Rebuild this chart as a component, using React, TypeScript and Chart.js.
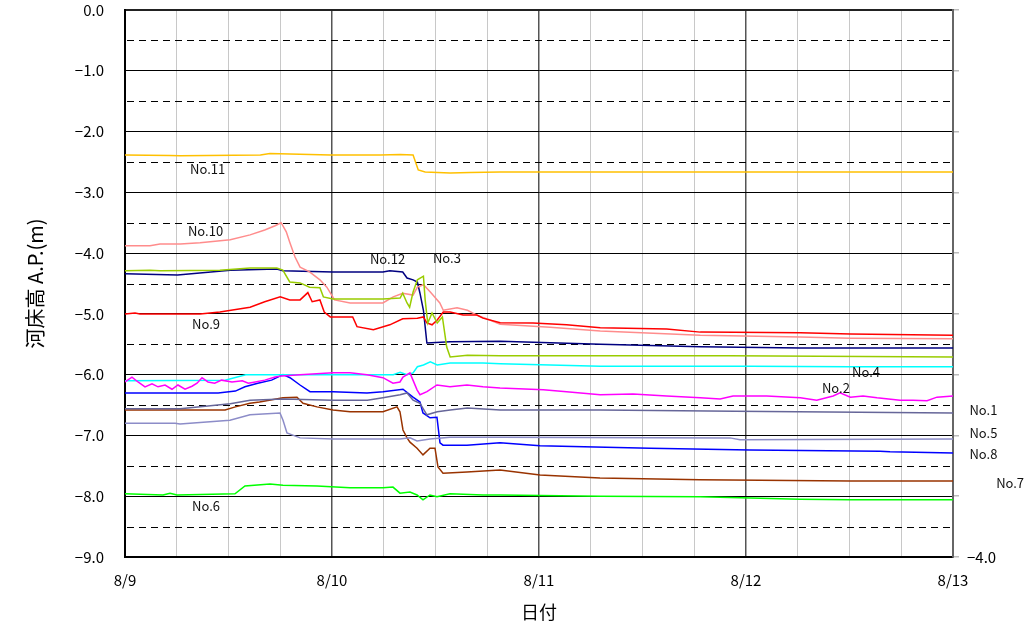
import React, { useEffect, useRef } from "react";
import { Chart, registerables } from "chart.js";

Chart.register(...registerables);

// hours from 8/9 00:00, river bed height A.P.(m)
const no1: [number, number][] = [
  [0, -6.56], [6.4, -6.56], [12.2, -6.48], [14.5, -6.42], [18.3, -6.4], [24.1, -6.42], [28.1, -6.42],
  [29.9, -6.38], [31.9, -6.33], [32.7, -6.3], [33.4, -6.42], [34.2, -6.47], [35.0, -6.66], [36.2, -6.61],
  [37.7, -6.58], [39.7, -6.55], [43.5, -6.58], [55.1, -6.58], [70.7, -6.6], [96, -6.63],
];
const no2: [number, number][] = [
  [0, -6.12], [0.81, -6.04], [1.51, -6.12], [2.32, -6.2], [3.13, -6.15], [3.83, -6.2], [4.64, -6.17],
  [5.45, -6.24], [6.14, -6.17], [6.96, -6.24], [7.77, -6.19], [8.35, -6.14], [8.93, -6.05], [9.62, -6.12],
  [10.4, -6.14], [11.2, -6.09], [12.4, -6.12], [13.6, -6.1], [14.3, -6.14], [15.1, -6.12], [16.2, -6.09],
  [17.4, -6.04], [18.2, -6.02], [20.29, -6.0], [24.12, -5.97], [26.09, -5.97],
  [28.06, -6.0], [29.91, -6.05], [31.07, -6.14], [31.88, -6.12], [32.23, -6.04], [33.04, -5.97],
  [33.39, -6.09], [33.86, -6.25], [34.2, -6.33], [35.01, -6.28], [36.17, -6.17], [37.68, -6.2],
  [39.65, -6.17], [41.51, -6.2], [43.48, -6.22], [48.5, -6.25], [51.2, -6.28], [55.1, -6.33],
  [58.9, -6.32], [62.8, -6.35], [66.7, -6.38], [69.0, -6.4], [70.5, -6.35], [74.4, -6.35], [78.3, -6.38],
  [80.2, -6.42], [82.1, -6.35], [82.9, -6.3], [84.1, -6.37], [85.57, -6.35], [87.19, -6.38],
  [89.86, -6.42], [91.36, -6.42], [92.99, -6.43], [94.14, -6.37], [96, -6.35],
];
const no3: [number, number][] = [
  [0, -4.29], [2.9, -4.28], [4.06, -4.29], [11.0, -4.28], [14.5, -4.245], [17.6, -4.245], [18.3, -4.28],
  [19.1, -4.475], [20.3, -4.49], [21.4, -4.56], [22.6, -4.57], [23.0, -4.72], [24.1, -4.755], [29.9, -4.755],
  [31.9, -4.74], [32.2, -4.66], [32.7, -4.82], [33.0, -4.89], [33.4, -4.64], [33.9, -4.44], [34.6, -4.38],
  [34.8, -4.77], [35.1, -5.15], [35.6, -4.985], [36.2, -5.15], [36.8, -5.05], [37.3, -5.545], [37.7, -5.71],
  [39.7, -5.68], [43.5, -5.69], [70, -5.69], [96, -5.71],
];
const no4: [number, number][] = [
  [0, -6.1], [11.6, -6.09], [14.0, -6.0], [20.3, -6.0], [31.1, -6.0], [31.9, -5.96], [32.7, -6.0],
  [33.4, -5.97], [33.9, -5.87], [34.6, -5.84], [35.4, -5.79], [36.2, -5.84], [37.7, -5.81], [41.5, -5.81],
  [43.5, -5.82], [55.1, -5.86], [72.5, -5.86], [84.1, -5.87], [96, -5.87],
];
const no5: [number, number][] = [
  [0, -6.8], [5.8, -6.8], [6.38, -6.81], [12.17, -6.75], [14.49, -6.66], [17.97, -6.63], [18.32, -6.75],
  [18.78, -6.96], [20.29, -7.04], [24.12, -7.06], [31.88, -7.06], [33.04, -7.04], [33.86, -7.09],
  [35.36, -7.06], [37.68, -7.03], [43.48, -7.03], [70.14, -7.04], [71.3, -7.07], [96, -7.06],
];
const no6: [number, number][] = [
  [0, -7.96], [4.41, -7.98], [5.22, -7.95], [6.03, -7.98], [12.75, -7.96], [13.91, -7.83], [16.81, -7.8],
  [18.32, -7.82], [22.26, -7.83], [26.09, -7.86], [29.91, -7.86], [31.07, -7.85], [31.88, -7.95],
  [33.04, -7.93], [33.86, -7.98], [34.55, -8.06], [35.36, -7.98], [36.17, -8.01], [37.68, -7.96],
  [41.51, -7.98], [43.48, -7.98], [55.07, -8.0], [66.67, -8.01], [78.26, -8.05], [84.06, -8.06], [96, -8.06],
];
const no7: [number, number][] = [
  [0, -6.58], [11.6, -6.58], [12.8, -6.53], [14.49, -6.47], [15.6, -6.45], [18.32, -6.38], [19.94, -6.37],
  [20.64, -6.47], [22.26, -6.53], [24.12, -6.58], [26.09, -6.61], [29.91, -6.61], [31.54, -6.53],
  [31.88, -6.61], [32.23, -6.91], [32.7, -7.04], [33.04, -7.11], [33.86, -7.21], [34.55, -7.32],
  [35.36, -7.21], [35.94, -7.21], [36.29, -7.52], [36.87, -7.62], [39.65, -7.6], [43.48, -7.57],
  [48.12, -7.65], [55.07, -7.7], [66.67, -7.73], [84.06, -7.75], [96, -7.75],
];
const no8: [number, number][] = [
  [0, -6.3], [9.6, -6.3], [10.8, -6.3], [12.8, -6.27], [13.9, -6.2], [15.4, -6.14], [17.0, -6.09],
  [18.32, -6.0], [19.13, -6.05], [20.29, -6.17], [21.45, -6.28], [24.12, -6.28], [28.06, -6.3],
  [29.91, -6.28], [32.23, -6.24], [33.39, -6.37], [34.2, -6.45], [34.55, -6.63], [35.36, -6.71],
  [36.17, -6.7], [36.52, -7.12], [36.87, -7.16], [39.65, -7.16], [43.48, -7.12], [48.12, -7.17],
  [60.87, -7.21], [72.46, -7.24], [87.54, -7.26], [88.7, -7.27], [96, -7.29],
];
const no9: [number, number][] = [
  [0, -5.0], [1.16, -4.985], [1.74, -5.0], [8.7, -5.0], [11.0, -4.97], [14.5, -4.89], [16.2, -4.8],
  [18.0, -4.72], [19.1, -4.77], [20.3, -4.77], [21.2, -4.65], [21.7, -4.8], [22.6, -4.77], [23.1, -4.97],
  [23.8, -5.05], [26.4, -5.05], [26.9, -5.21], [28.8, -5.26], [30.7, -5.18], [32.2, -5.08], [33.9, -5.07],
  [34.6, -5.05], [35.0, -5.15], [35.6, -5.18], [36.2, -5.1], [36.9, -4.97], [37.7, -4.97], [39.2, -5.02],
  [40.8, -5.02], [41.5, -5.07], [43.5, -5.145], [47.3, -5.15], [51.2, -5.18], [55.1, -5.23], [62.8, -5.25],
  [66.7, -5.3], [78.3, -5.31], [84.1, -5.33], [96, -5.35],
];
const no10: [number, number][] = [
  [0, -3.88], [2.9, -3.88], [4.06, -3.85], [6.4, -3.85], [8.7, -3.83], [12.2, -3.78], [14.5, -3.7],
  [16.2, -3.62], [17.4, -3.55], [18.1, -3.5], [18.7, -3.65], [19.1, -3.82], [19.7, -4.06], [20.3, -4.23],
  [21.4, -4.31], [22.6, -4.44], [23.4, -4.56], [24.3, -4.77], [26.1, -4.82], [29.9, -4.82], [31.1, -4.72],
  [32.2, -4.66], [33.4, -4.69], [33.9, -4.56], [34.6, -4.52], [35.4, -4.64], [36.5, -4.82], [36.9, -4.94],
  [38.5, -4.9], [39.7, -4.94], [40.8, -5.02], [42.3, -5.1], [43.5, -5.17], [49.3, -5.22], [55.1, -5.28],
  [66.7, -5.35], [78.3, -5.38], [84.1, -5.4], [96, -5.41],
];
const no11: [number, number][] = [
  [0, -2.386], [5.2, -2.394], [6.4, -2.4], [15.7, -2.386], [16.8, -2.36], [19.1, -2.37], [23.8, -2.386],
  [29.6, -2.386], [31.9, -2.377], [33.4, -2.386], [34.0, -2.632], [34.8, -2.665], [37.7, -2.682],
  [40.0, -2.674], [43.5, -2.665], [96, -2.665],
];
const no12: [number, number][] = [
  [0, -4.34], [6.1, -4.36], [12.2, -4.28], [17.6, -4.26], [18.3, -4.29], [24.1, -4.31], [29.9, -4.31],
  [30.7, -4.29], [32.2, -4.31], [32.7, -4.41], [33.4, -4.44], [33.9, -4.475], [34.2, -4.66], [34.6, -4.94],
  [35.0, -5.48], [37.7, -5.46], [43.5, -5.45], [55.1, -5.5], [66.7, -5.54], [78.3, -5.56], [96, -5.56],
];

const seriesNames = ["No.1", "No.2", "No.3", "No.4", "No.5", "No.6", "No.7", "No.8", "No.9", "No.10", "No.11", "No.12"];
const seriesData = [no1, no2, no3, no4, no5, no6, no7, no8, no9, no10, no11, no12];
const seriesColors = [
  "#666699", "#FF00FF", "#99CC00", "#00FFFF", "#8C8CC8", "#00FF00",
  "#993300", "#0000FF", "#FF0000", "#FF8C8C", "#FFC000", "#000080",
];

// series name labels placed in data coordinates (hours, metres)
const labelTexts = ["No.11", "No.10", "No.12", "No.3", "No.9", "No.4", "No.2", "No.1", "No.5", "No.8", "No.7", "No.6"];
const labelHours = [7.54, 7.3, 28.4, 35.7, 7.77, 84.3, 80.8, 97.9, 97.9, 97.9, 101.0, 7.77];
const labelValues = [-2.62, -3.64, -4.1, -4.08, -5.17, -5.96, -6.22, -6.58, -6.96, -7.31, -7.78, -8.16];

const dayLabels = ["8/9", "8/10", "8/11", "8/12", "8/13"];
const halfGridValues = [-0.5, -1.5, -2.5, -3.5, -4.5, -5.5, -6.5, -7.5, -8.5];

const FONT = "'Noto Sans CJK JP', 'Noto Sans', sans-serif";

const overlayPlugin = {
  id: "overlay",
  beforeDatasetsDraw(chart: any) {
    const { ctx, chartArea, scales } = chart;
    ctx.save();
    ctx.strokeStyle = "#000";
    ctx.lineWidth = 1;
    ctx.setLineDash([7, 5]);
    halfGridValues.forEach((v) => {
      const y = Math.round(scales.y.getPixelForValue(v)) + 0.5;
      ctx.beginPath();
      ctx.moveTo(chartArea.left + 2, y);
      ctx.lineTo(chartArea.right - 2, y);
      ctx.stroke();
    });
    ctx.restore();
  },
  afterDatasetsDraw(chart: any) {
    const { ctx, scales } = chart;
    ctx.save();
    ctx.font = `13px ${FONT}`;
    ctx.fillStyle = "#111";
    ctx.textAlign = "left";
    ctx.textBaseline = "middle";
    labelTexts.forEach((t, i) => {
      const x = scales.x.getPixelForValue(labelHours[i]);
      const y = scales.y.getPixelForValue(labelValues[i]);
      ctx.fillText(t, x, y);
    });
    ctx.restore();
  },
};

export default function App() {
  const ref = useRef<HTMLCanvasElement>(null);

  useEffect(() => {
    document.body.style.margin = "0";
    if (!ref.current) return;
    const chart = new Chart(ref.current, {
      type: "line",
      data: {
        datasets: seriesData.map((d, i) => ({
          label: seriesNames[i],
          data: d.map(([x, y]) => ({ x, y })),
          borderColor: seriesColors[i],
          backgroundColor: seriesColors[i],
          borderWidth: 1.5,
          pointRadius: 0,
          tension: 0,
          fill: false,
        })),
      },
      options: {
        animation: false,
        responsive: false,
        maintainAspectRatio: false,
        layout: { padding: { top: 10, left: 0, right: 0, bottom: 0 } },
        plugins: { legend: { display: false }, tooltip: { enabled: false } },
        scales: {
          x: {
            type: "linear",
            min: 0,
            max: 96,
            afterFit: (s: any) => {
              s.height = 69;
              s.paddingLeft = 0;
              s.paddingRight = 0;
            },
            afterBuildTicks: (s: any) => {
              const t = [];
              for (let v = 0; v <= 96; v += 6) t.push({ value: v });
              s.ticks = t;
            },
            ticks: {
              autoSkip: false,
              maxRotation: 0,
              padding: 14,
              color: "#000",
              font: { size: 15, family: FONT },
              callback: (v: any) => (Number(v) % 24 === 0 ? dayLabels[Number(v) / 24] : ""),
            },
            grid: {
              drawTicks: false,
              color: (c: any) => (c.tick && c.tick.value % 24 === 0 ? "#555" : "#C8C8C8"),
              lineWidth: (c: any) => (c.tick && c.tick.value % 24 === 0 ? 1.5 : 1),
            },
            border: { display: true, color: "#000", width: 2 },
            title: {
              display: true,
              text: "日付",
              color: "#000",
              font: { size: 18, family: FONT },
              padding: { bottom: 3, top: 0 },
            },
          },
          y: {
            type: "linear",
            position: "left",
            min: -9,
            max: 0,
            afterFit: (s: any) => {
              s.width = 125;
              s.paddingTop = 0;
              s.paddingBottom = 0;
            },
            ticks: {
              stepSize: 1,
              padding: 21,
              color: "#000",
              font: { size: 15, family: FONT },
              callback: (v: any) => (Number(v) === 0 ? "0.0" : "\u2212" + Math.abs(Number(v)).toFixed(1)),
            },
            grid: {
              drawTicks: false,
              color: (c: any) => (c.tick && c.tick.value === 0 ? "#222" : "#000"),
              lineWidth: (c: any) => (c.tick && c.tick.value === 0 ? 2 : 1),
            },
            border: { display: true, color: "#000", width: 2 },
            title: {
              display: true,
              text: "河床高 A.P.(m)",
              color: "#000",
              font: { size: 20, family: FONT },
              padding: { top: 23, bottom: 0 },
            },
          },
          y2: {
            type: "linear",
            position: "right",
            min: -4,
            max: 5,
            afterFit: (s: any) => {
              s.width = 72;
              s.paddingTop = 0;
              s.paddingBottom = 0;
            },
            ticks: {
              stepSize: 1,
              padding: 8,
              color: "#000",
              font: { size: 15, family: FONT },
              callback: (v: any) => (Number(v) === -4 ? "\u22124.0" : ""),
            },
            grid: { drawOnChartArea: false, drawTicks: true, tickLength: 6, color: "#BBBBBB", lineWidth: 1.5 },
            border: { display: true, color: "#666", width: 2 },
          },
        },
      },
      plugins: [overlayPlugin],
    } as any);
    return () => chart.destroy();
  }, []);

  return (
    <div style={{ width: 1025, height: 626, position: "relative" }}>
      <canvas ref={ref} width={1025} height={626} style={{ width: 1025, height: 626, display: "block" }} />
    </div>
  );
}
